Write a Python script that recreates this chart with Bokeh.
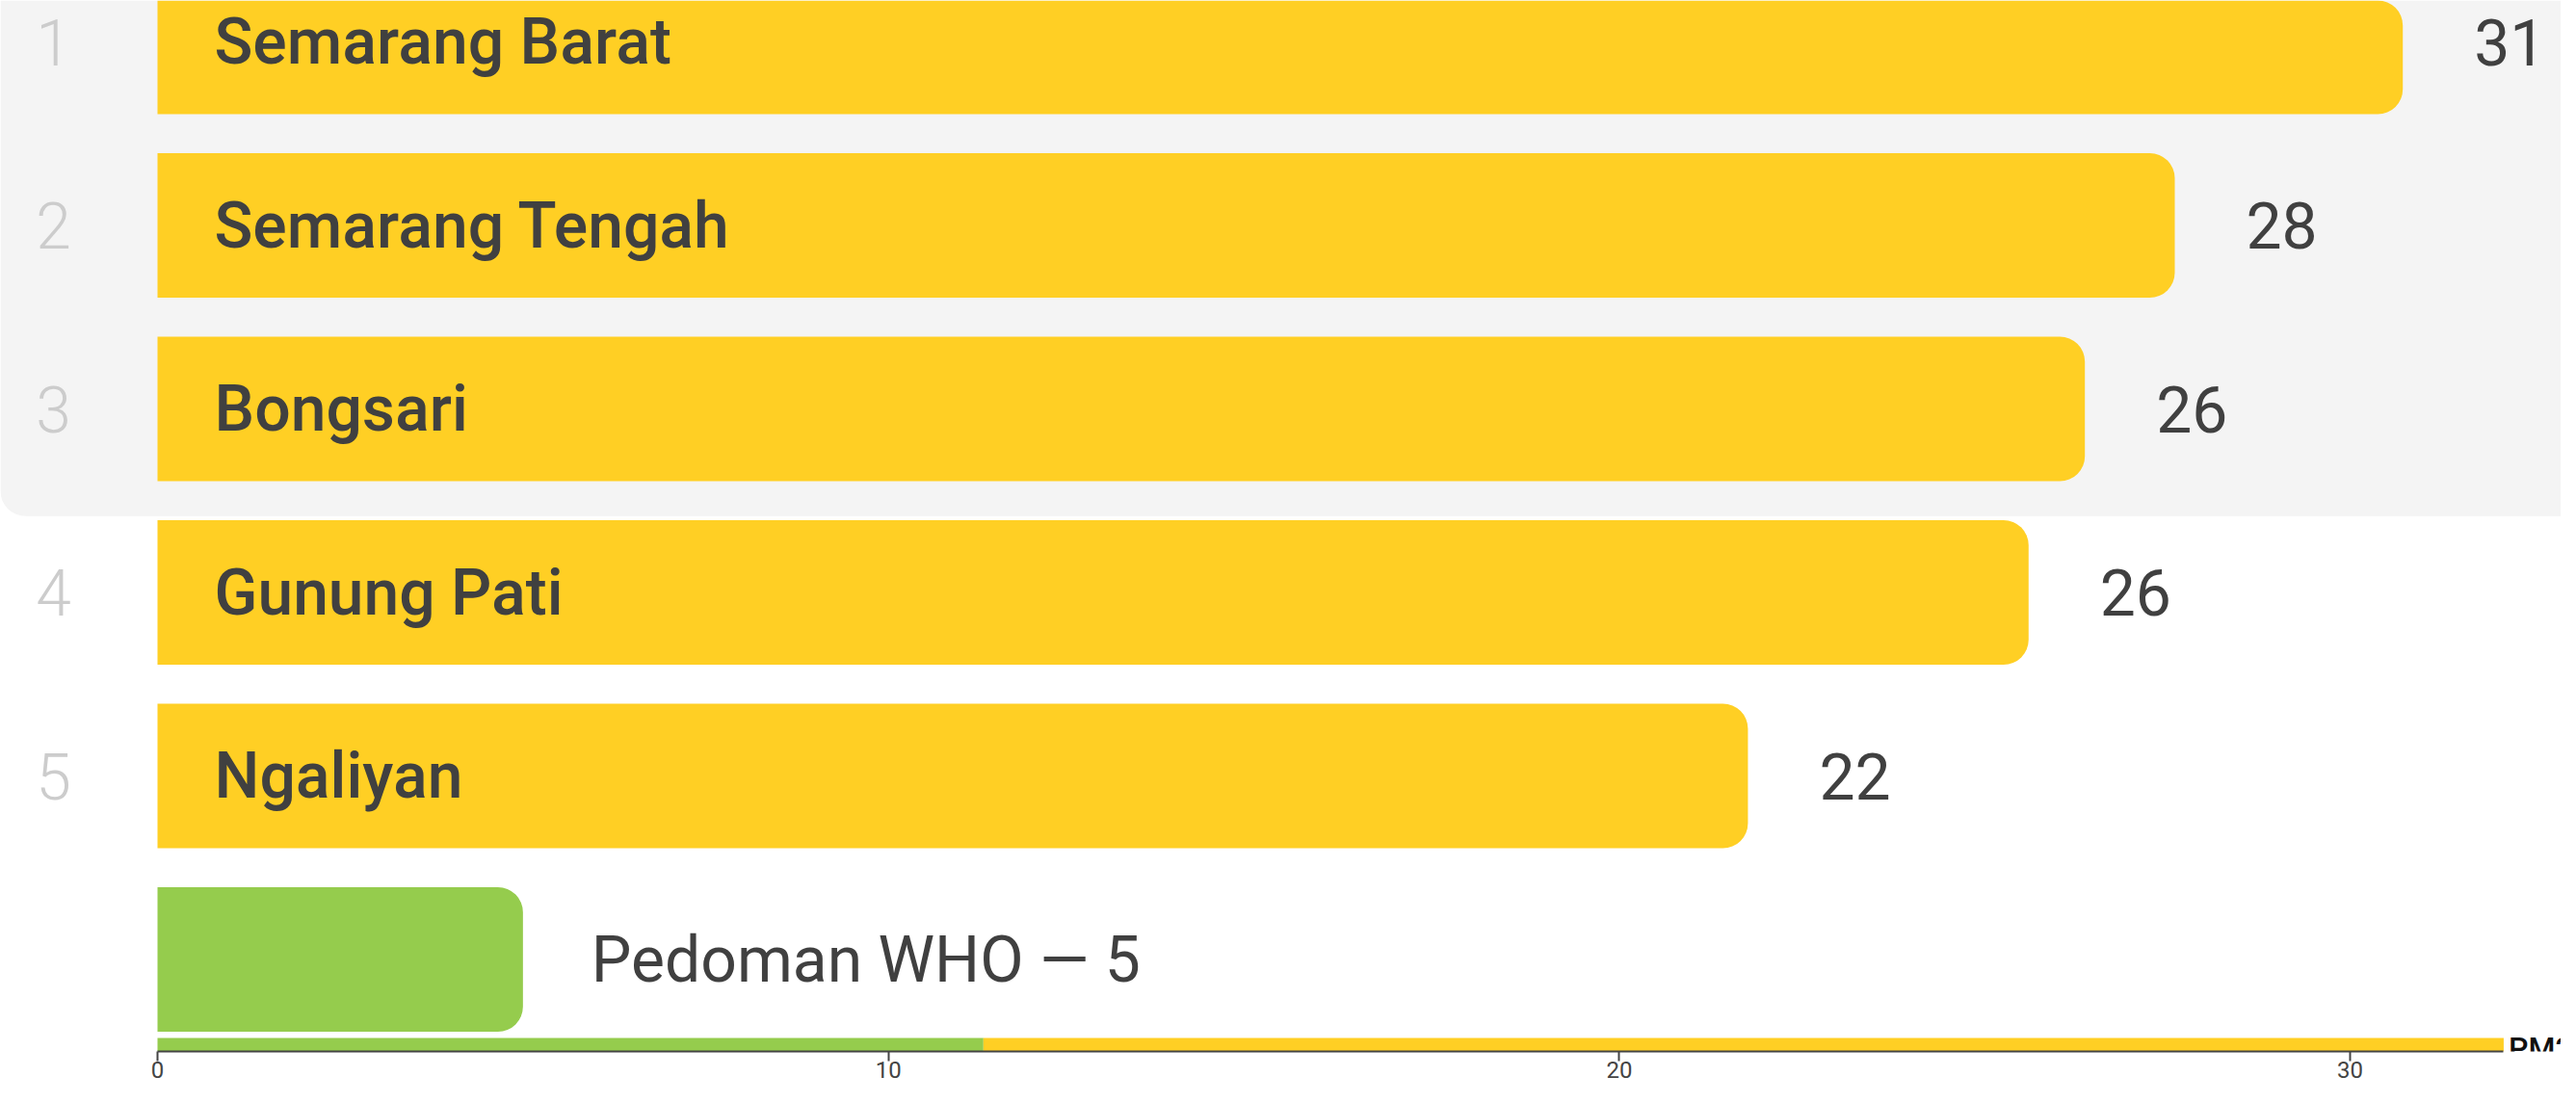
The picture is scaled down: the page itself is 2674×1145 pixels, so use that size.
from bokeh.plotting import figure
from bokeh.models import Range1d, Label, FixedTicker, ColumnDataSource
from bokeh.core.properties import value
from bokeh.embed import file_html
from bokeh.resources import INLINE

# ---- data ----
ranks = ["1", "2", "3", "4", "5"]
districts = ["Semarang Barat", "Semarang Tengah", "Bongsari", "Gunung Pati", "Ngaliyan"]
pm25 = [30.72, 27.6, 26.37, 25.6, 21.76]
value_labels = ["31", "28", "26", "26", "22"]
who_name = "Pedoman WHO"
who_value = 5
band_edges = [0, 11.3, 32.1]
axis_ticks = [0, 10, 20, 30]
unit_title = "PM2.5"
unit_sub = "(µg/m³)"
highlight_count = 3

# ---- style / layout ----
YELLOW = "#FFCF24"
GREEN = "#95CC4D"
GRAY_BG = "#F4F4F4"
TEXT = "#404040"
RANK = "#CCCCCC"
FONT = "Roboto"
NAME_FONT = "'Roboto Medium', Roboto"
RANK_FONT = "'Roboto Light', Roboto"

FRAME_W, FRAME_H, BORDER_B = 2658, 1091, 38
PX_X = 75.87         # px per data unit
ZERO_PX = 163        # px from frame left to zero
PITCH = 190.5        # px per row
ROW0_PX = 43         # px from frame top to first row centre
BAR_PX = 150
RADIUS = 26

x0 = -ZERO_PX / PX_X
x1 = x0 + FRAME_W / PX_X
y_top = -ROW0_PX / PITCH
y_bot = y_top + FRAME_H / PITCH
bar_h = BAR_PX / PITCH

p = figure(frame_width=FRAME_W, frame_height=FRAME_H,
           min_border_left=0, min_border_right=0, min_border_top=0,
           min_border_bottom=BORDER_B,
           x_range=Range1d(x0, x1), y_range=Range1d(y_bot, y_top),
           output_backend="svg", toolbar_location=None, y_axis_location=None)
p.outline_line_color = None
p.xgrid.visible = False
p.ygrid.visible = False
p.background_fill_color = "white"
p.border_fill_color = "white"

rows = list(range(len(districts)))
who_row = len(districts)

# grey highlight panel behind top ranks
p.quad(left=[x0], right=[x1], top=[y_top], bottom=[highlight_count - 0.5 + 16 / PITCH],
       fill_color=GRAY_BG, line_color=None,
       border_radius=dict(top_left=0, top_right=0, bottom_right=0, bottom_left=RADIUS))

src = ColumnDataSource(dict(y=rows, v=pm25, name=districts, rank=ranks, lab=value_labels))
p.hbar(y="y", left=0, right="v", height=bar_h, source=src,
       fill_color=YELLOW, line_color=None,
       border_radius=dict(top_left=0, top_right=RADIUS, bottom_right=RADIUS, bottom_left=0))
p.hbar(y=[who_row], left=[0], right=[who_value], height=bar_h,
       fill_color=GREEN, line_color=None,
       border_radius=dict(top_left=0, top_right=RADIUS, bottom_right=RADIUS, bottom_left=0))

p.text(x=0, y="y", text="rank", source=src, x_offset=-108,
       text_align="center", text_baseline="middle", text_font=value(RANK_FONT),
       text_font_size="66px", text_color=RANK)
p.text(x=0, y="y", text="name", source=src, x_offset=59,
       text_align="left", text_baseline="middle", text_font=value(NAME_FONT),
       text_font_size="66px", text_color=TEXT)
p.text(x="v", y="y", text="lab", source=src, x_offset=74,
       text_align="left", text_baseline="middle", text_font=value(FONT),
       text_font_size="66px", text_color=TEXT)
p.text(x=[who_value], y=[who_row], text=[f"{who_name} \u2014 {who_value}"], x_offset=71,
       text_align="left", text_baseline="middle", text_font=value(FONT),
       text_font_size="66px", text_color=TEXT)

# colour band along the axis
strip_h = 14 / PITCH
p.quad(left=band_edges[:-1], right=band_edges[1:], bottom=[y_bot] * 2, top=[y_bot - strip_h] * 2,
       fill_color=[GREEN, YELLOW], line_color=None)

ax = p.xaxis[0]
ax.ticker = FixedTicker(ticks=axis_ticks)
ax.bounds = (band_edges[0], band_edges[-1])
ax.axis_line_color = "#444444"
ax.axis_line_width = 2
ax.major_tick_line_color = "#444444"
ax.major_tick_line_width = 2
ax.major_tick_out = 10
ax.major_tick_in = 0
ax.minor_tick_line_color = None
ax.major_label_standoff = 0
ax.major_label_text_font = FONT
ax.major_label_text_font_size = "24px"
ax.major_label_text_color = "#444444"

p.add_layout(Label(x=band_edges[-1], y=y_bot, x_offset=52, y_offset=4, text=unit_title,
                   text_align="center", text_baseline="alphabetic", text_font=NAME_FONT,
                   text_font_size="32px", text_color="#111111"))
p.add_layout(Label(x=band_edges[-1], y=y_bot, x_offset=55, y_offset=-8, text=unit_sub,
                   text_align="center", text_baseline="top", text_font=FONT,
                   text_font_size="20px", text_color="#111111"))

open("out.html", "w").write(file_html(p, INLINE))
